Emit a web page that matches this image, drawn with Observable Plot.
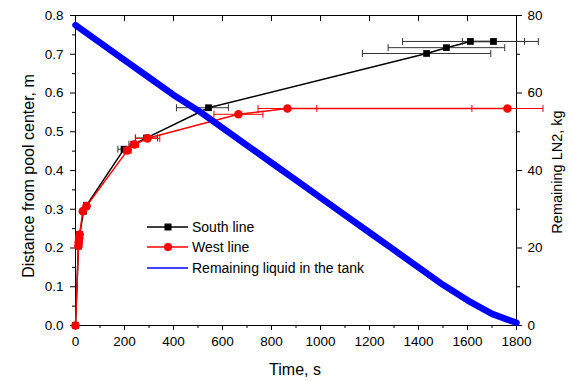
<!DOCTYPE html>
<html><head><meta charset="utf-8">
<script src="https://cdn.jsdelivr.net/npm/d3@7"></script>
<script src="https://cdn.jsdelivr.net/npm/@observablehq/plot@0.6"></script>
<style>body{margin:0;background:#fff} svg{font-family:"Liberation Sans",Arial,sans-serif}</style>
</head><body><div id="chart"></div>
<script>
// South line (black squares): time (s), distance (m), horizontal error (s)
const southTime = [0, 12, 14, 15, 17, 33, 45, 198, 238, 290, 543, 1433, 1514, 1612, 1706];
const southDist = [0, 0.205, 0.215, 0.225, 0.235, 0.295, 0.31, 0.455, 0.468, 0.484, 0.562, 0.702, 0.717, 0.733, 0.733];
const southErrL = [0, 5, 5, 5, 5, 8, 8, 25, 20, 45, 131, 262, 238, 277, 127];
const southErrR = [0, 5, 5, 5, 5, 8, 8, 25, 20, 45, 81, 262, 238, 277, 127];
// West line (red circles)
const westTime = [0, 12, 13, 15, 17, 30, 45, 212, 241, 294, 665, 865, 1763];
const westDist = [0, 0.205, 0.215, 0.225, 0.235, 0.295, 0.308, 0.452, 0.467, 0.483, 0.545, 0.56, 0.56];
const westErr  = [0, 4, 4, 4, 4, 6, 6, 15, 15, 50, 100, 120, 145];
// Remaining liquid in the tank (kg)
const tankTime = [0, 100, 200, 300, 400, 500, 600, 700, 800, 900, 1000, 1100, 1200, 1300, 1400, 1500, 1600, 1700, 1800];
const tankKg   = [77.5, 73, 68.5, 64, 59.5, 55.5, 51, 46.5, 42, 37.5, 33, 28.5, 24, 19.5, 15, 10.5, 6.5, 3, 0.7];
// Axis ticks
const xTicks = [0, 200, 400, 600, 800, 1000, 1200, 1400, 1600, 1800];
const xMinor = [100, 300, 500, 700, 900, 1100, 1300, 1500, 1700];
const yTicks = [0, 0.1, 0.2, 0.3, 0.4, 0.5, 0.6, 0.7, 0.8];
const yMinor = [0.05, 0.15, 0.25, 0.35, 0.45, 0.55, 0.65, 0.75];
const kgTicks = [0, 20, 40, 60, 80];
const kgMinor = [10, 30, 50, 70];

const south = southTime.map((t, i) => ({t, d: southDist[i], lo: t - southErrL[i], hi: t + southErrR[i]}));
const west = westTime.map((t, i) => ({t, d: westDist[i], lo: t - westErr[i], hi: t + westErr[i]}));
const tank = tankTime.map((t, i) => ({t, kg: tankKg[i]}));
const bars = (arr) => arr.filter(d => d.hi > d.lo);

const cap = {draw(ctx, size) { const r = Math.sqrt(size / Math.PI); ctx.moveTo(0, -r); ctx.lineTo(0, r); }};
const blank = () => "";

const chart = Plot.plot({
  width: 571, height: 381,
  marginLeft: 75, marginRight: 55, marginTop: 15, marginBottom: 56,
  style: {fontFamily: '"Liberation Sans", Arial, sans-serif', fontSize: "13.5px", background: "white", color: "black"},
  x: {domain: [0, 1800]},
  y: {domain: [0, 0.8]},
  marks: [
    Plot.axisX({anchor: "bottom", ticks: xTicks, tickSize: 5, tickPadding: 6, tickFormat: d => String(d), label: null}),
    Plot.axisX({anchor: "bottom", ticks: xMinor, tickSize: 3, tickFormat: blank, label: null}),
    Plot.axisX({anchor: "top", ticks: xTicks, tickSize: -5, tickFormat: blank, label: null}),
    Plot.axisY({anchor: "left", ticks: yTicks, tickSize: 5, tickPadding: 7, tickFormat: d3.format(".1f"), label: null}),
    Plot.axisY({anchor: "left", ticks: yMinor, tickSize: 3, tickFormat: blank, label: null}),
    Plot.axisY({anchor: "right", ticks: kgTicks.map(v => v / 100), tickSize: 5, tickPadding: 6, tickFormat: d => String(Math.round(d * 100)), label: null}),
    Plot.axisY({anchor: "right", ticks: kgMinor.map(v => v / 100), tickSize: 3, tickFormat: blank, label: null}),
    Plot.frame({stroke: "black", strokeWidth: 1}),
    // South line
    Plot.line(south, {x: "t", y: "d", stroke: "black", strokeWidth: 1.5}),
    Plot.link(bars(south), {x1: "lo", x2: "hi", y1: "d", y2: "d", stroke: "#333", strokeWidth: 1}),
    Plot.dot(bars(south), {x: "lo", y: "d", symbol: cap, r: 3.5, stroke: "#333", fill: "none", strokeWidth: 1}),
    Plot.dot(bars(south), {x: "hi", y: "d", symbol: cap, r: 3.5, stroke: "#333", fill: "none", strokeWidth: 1}),
    Plot.dot(south, {x: "t", y: "d", symbol: "square", r: 3.8, fill: "black", stroke: "none"}),
    // West line
    Plot.line(west, {x: "t", y: "d", stroke: "#ff0000", strokeWidth: 1.5}),
    Plot.link(bars(west), {x1: "lo", x2: "hi", y1: "d", y2: "d", stroke: "#ff0000", strokeWidth: 1}),
    Plot.dot(bars(west), {x: "lo", y: "d", symbol: cap, r: 3.5, stroke: "#ff0000", fill: "none", strokeWidth: 1}),
    Plot.dot(bars(west), {x: "hi", y: "d", symbol: cap, r: 3.5, stroke: "#ff0000", fill: "none", strokeWidth: 1}),
    Plot.dot(west, {x: "t", y: "d", r: 4.3, fill: "#ff0000", stroke: "none"}),
    // Tank
    Plot.line(tank, {x: "t", y: d => d.kg / 100, stroke: "#0000ff", strokeWidth: 6.5})
  ]
});
document.getElementById("chart").appendChild(chart);

const svg = d3.select(chart);
const legendItems = [
  {label: "South line", color: "black", marker: "square", y: 227},
  {label: "West line", color: "#ff0000", marker: "circle", y: 247},
  {label: "Remaining liquid in the tank", color: "#0000ff", marker: null, y: 268}
];
const lg = svg.append("g").attr("text-anchor", "start");
legendItems.forEach(it => {
  lg.append("line").attr("x1", 147).attr("x2", 188).attr("y1", it.y).attr("y2", it.y)
    .attr("stroke", it.color).attr("stroke-width", 1.5);
  if (it.marker === "square") lg.append("rect").attr("x", 164.5).attr("y", it.y - 3.5).attr("width", 7).attr("height", 7).attr("fill", it.color);
  if (it.marker === "circle") lg.append("circle").attr("cx", 168).attr("cy", it.y).attr("r", 4).attr("fill", it.color);
  lg.append("text").attr("x", 192).attr("y", it.y + 5).attr("text-anchor", "start").attr("font-size", 14).attr("fill", "black").text(it.label);
});
svg.append("text").attr("x", 295).attr("y", 375).attr("text-anchor", "middle").attr("font-size", 16).attr("fill", "black").text("Time, s");
svg.append("text").attr("transform", "translate(34,176) rotate(-90)").attr("text-anchor", "middle").attr("font-size", 16).attr("fill", "black").text("Distance from pool center, m");
svg.append("text").attr("transform", "translate(562,172) rotate(-90)").attr("text-anchor", "middle").attr("font-size", 14.5).attr("fill", "black").text("Remaining LN2, kg");
</script></body></html>
